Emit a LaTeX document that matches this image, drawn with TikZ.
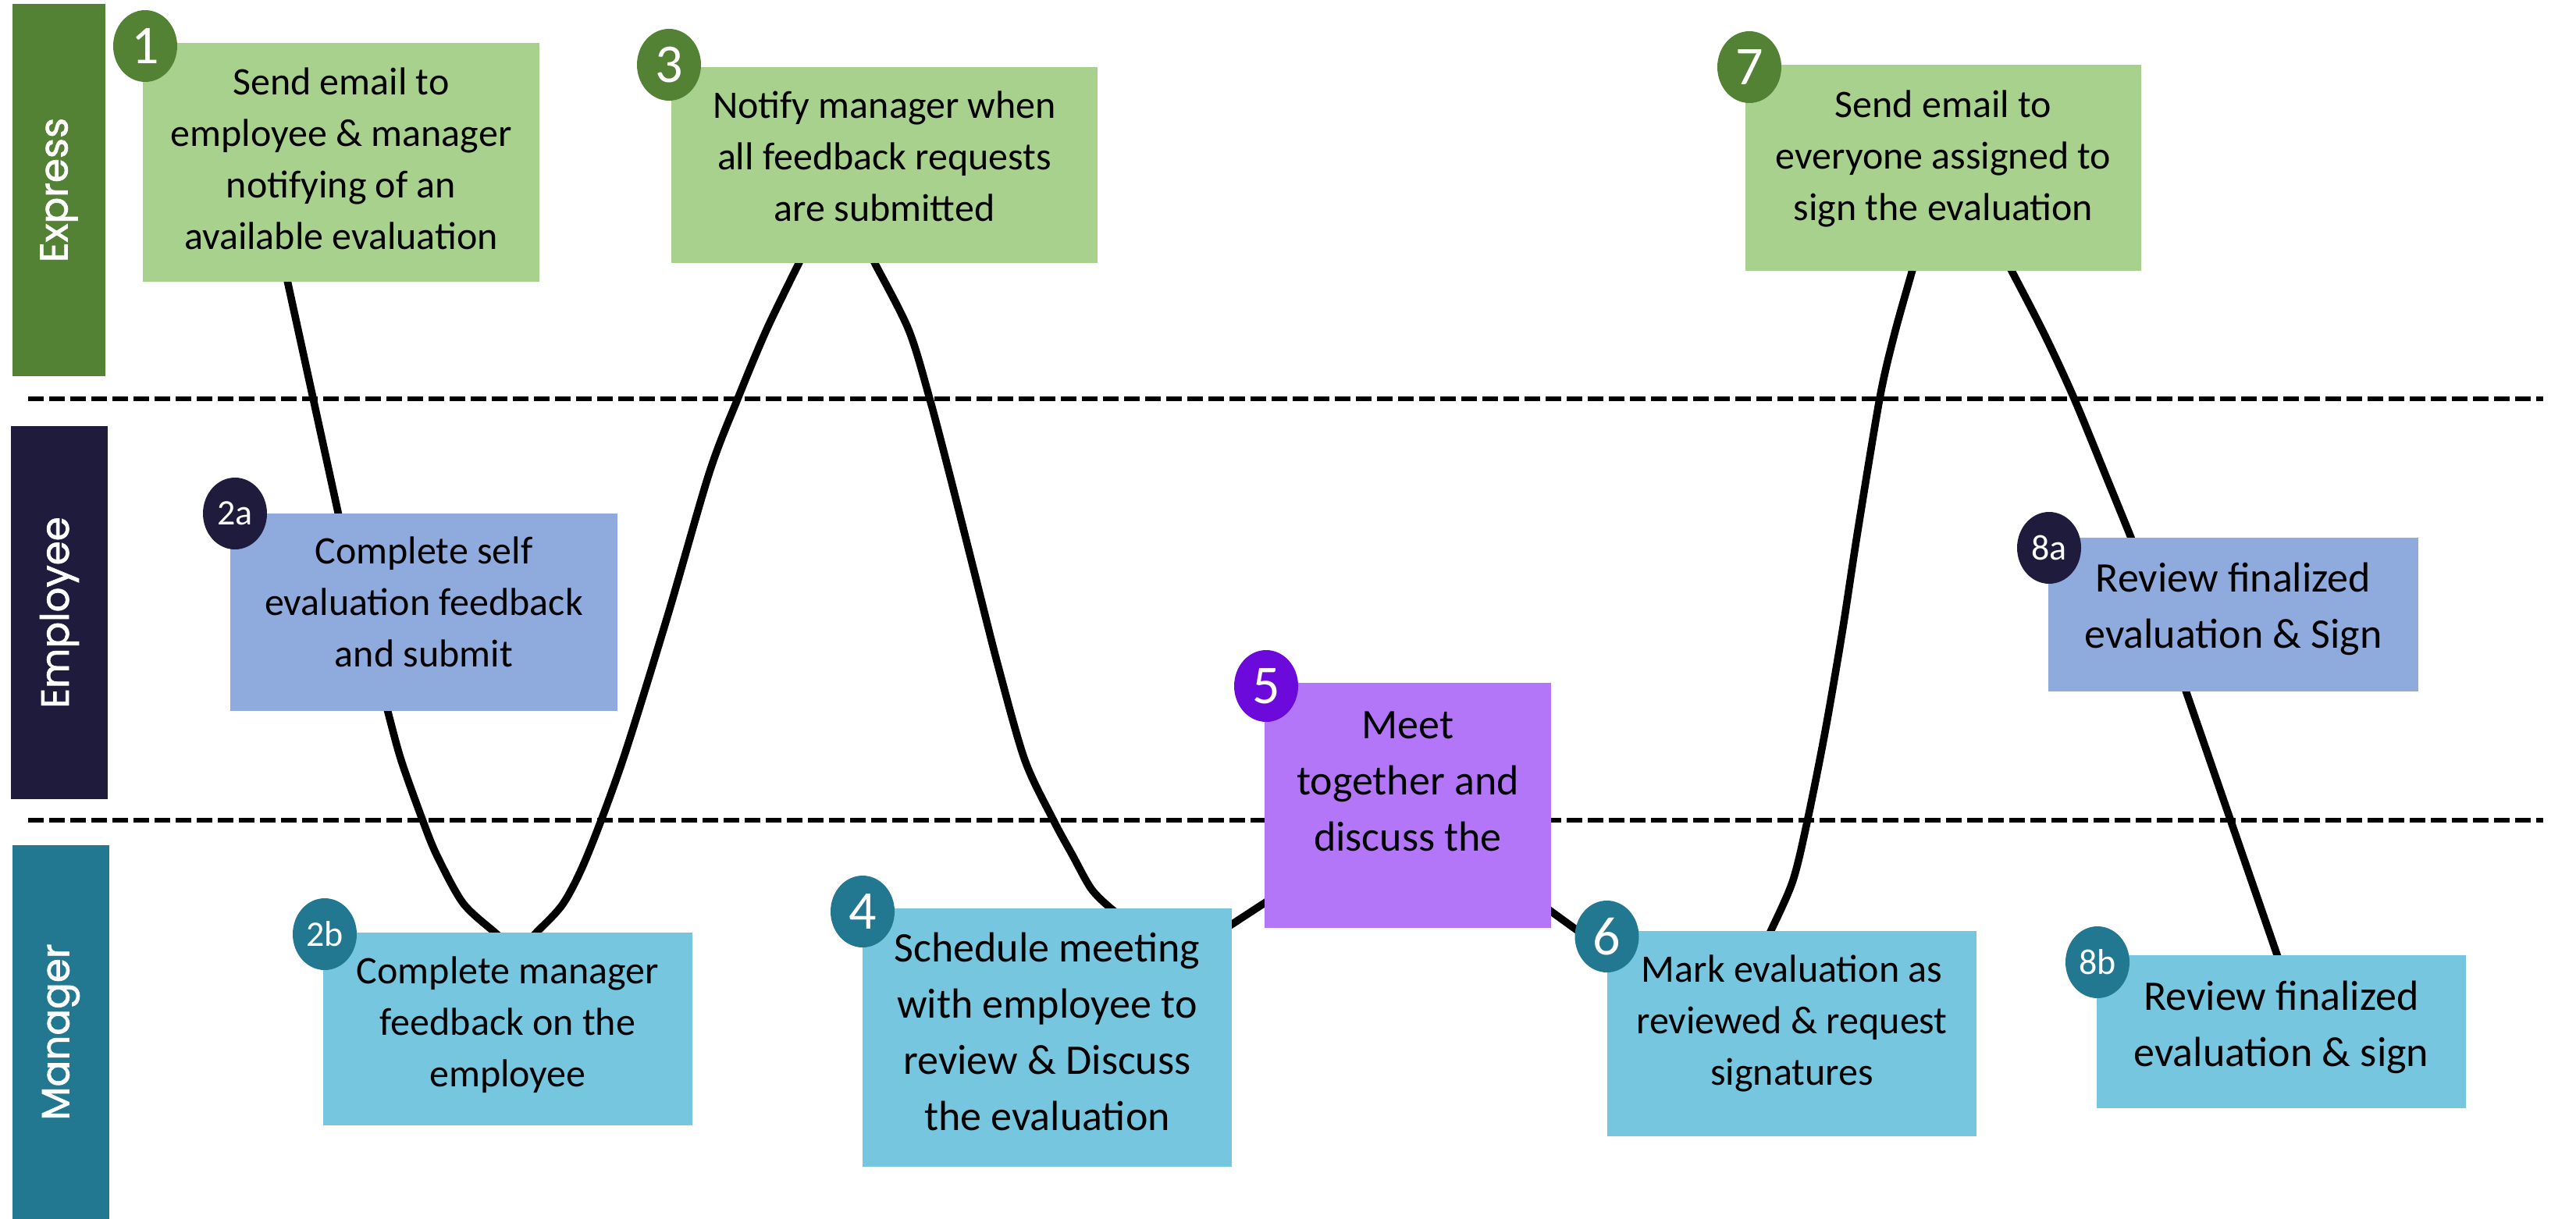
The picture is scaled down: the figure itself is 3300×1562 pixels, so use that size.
\documentclass[tikz,border=0pt]{standalone}
\usepackage{fontspec}
\setmainfont{Carlito}
\newfontfamily\lanefont{Poppins}[FakeBold=1.5]
\usetikzlibrary{shapes.geometric}
\definecolor{grnD}{HTML}{548235}
\definecolor{grnL}{HTML}{A9D18E}
\definecolor{navy}{HTML}{1E1B3C}
\definecolor{bluL}{HTML}{8FAADC}
\definecolor{tealD}{HTML}{237891}
\definecolor{cyanL}{HTML}{76C6E0}
\definecolor{purL}{HTML}{B476F8}
\definecolor{purD}{HTML}{6C0ADC}
\pgfdeclarelayer{bg}
\pgfsetlayers{bg,main}
\newcommand\fsz[2]{\fontsize{#1}{#2}\selectfont}
\newcommand\boxtext[2]{\raisebox{#1}[\height][\depth]{\begin{tabular}{@{}c@{}}#2\end{tabular}}}
\begin{document}
\begin{tikzpicture}[x=0.25pt, y=-0.25pt,
  stepbox/.style={rectangle, inner sep=0pt, text=black, font=\fsz{12.5pt}{16.5pt}},
  bigtext/.style={font=\fsz{13.5pt}{18pt}},
  pill/.style={ellipse, minimum width=20.5pt, minimum height=23pt, inner sep=0pt, text=white, font=\fsz{17.5pt}{20pt}},
  smallpill/.style={pill, font=\fsz{11.5pt}{14pt}},
  lane/.style={rectangle, rotate=90, inner sep=0pt, text=white, font=\lanefont\fsz{12.5pt}{15pt}},
  flow/.style={line width=2.4pt, black},
  lanesep/.style={line width=1.5pt, black, dash pattern=on 5pt off 1.75pt}]
\useasboundingbox (0,0) rectangle (3300,1562);

% lane bars
\node[lane, fill=grnD, minimum width=119.25pt, minimum height=29.75pt] (lx) at (75.5,243.5) {Express};
\node[lane, fill=navy, minimum width=119.5pt, minimum height=31pt] (le) at (76,785) {Employee};
\node[lane, fill=tealD, minimum width=119.75pt, minimum height=31pt] (lm) at (78,1322.5) {Manager};

% step boxes
\node[stepbox, fill=grnL, minimum width=127pt, minimum height=76.5pt] (b1) at (437,208)
  {\boxtext{0.2pt}{Send email to\\employee \& manager\\notifying of an\\available evaluation}};
\node[stepbox, fill=grnL, minimum width=136.5pt, minimum height=62.75pt] (b3) at (1133,211.5)
  {\boxtext{1.8pt}{Notify manager when\\all feedback requests\\are submitted}};
\node[stepbox, fill=grnL, minimum width=126.75pt, minimum height=66pt] (b7) at (2489.5,215)
  {\boxtext{2.9pt}{Send email to\\everyone assigned to\\sign the evaluation}};
\node[stepbox, fill=bluL, minimum width=124pt, minimum height=63.25pt] (b2a) at (543,784.5)
  {\boxtext{2.2pt}{Complete self\\evaluation feedback\\and submit}};
\node[stepbox, bigtext, fill=bluL, minimum width=118.5pt, minimum height=49.25pt] (b8a) at (2861,787.5)
  {\boxtext{1.75pt}{Review finalized\\evaluation \& Sign}};
\node[stepbox, fill=cyanL, minimum width=118.25pt, minimum height=61.75pt] (b2b) at (650.5,1318.5)
  {\boxtext{1.3pt}{Complete manager\\feedback on the\\employee}};
\node[stepbox, bigtext, fill=cyanL, minimum width=118.25pt, minimum height=82.75pt] (b4) at (1341.5,1329.5)
  {\boxtext{0.75pt}{Schedule meeting\\with employee to\\review \& Discuss\\the evaluation}};
\node[stepbox, bigtext, fill=purL, minimum width=91.75pt, minimum height=78.5pt] (b5) at (1803.5,1032)
  {\boxtext{7pt}{Meet\\together and\\discuss the}};
\node[stepbox, fill=cyanL, minimum width=118.25pt, minimum height=65.75pt] (b6) at (2295.5,1324.5)
  {\boxtext{3.2pt}{Mark evaluation as\\reviewed \& request\\signatures}};
\node[stepbox, bigtext, fill=cyanL, minimum width=118.25pt, minimum height=49pt] (b8b) at (2922.5,1322)
  {\boxtext{1.4pt}{Review finalized\\evaluation \& sign}};

% number badges
\node[pill, fill=grnD] (n1) at (186,59) {1};
\node[pill, fill=grnD] (n3) at (857,83) {3};
\node[pill, fill=grnD] (n7) at (2241,86) {7};
\node[smallpill, fill=navy] (n2a) at (301,658) {2a};
\node[smallpill, fill=navy] (n8a) at (2625,702) {8a};
\node[smallpill, fill=tealD] (n2b) at (416,1197) {2b};
\node[pill, fill=tealD] (n4) at (1105,1168) {4};
\node[pill, fill=purD] (n5) at (1622,879) {5};
\node[pill, fill=tealD] (n6) at (2058.5,1200) {6};
\node[smallpill, fill=tealD] (n8b) at (2687,1233) {8b};

% connector end points (just inside the boxes)
\coordinate (c1s) at (366,350);   \coordinate (c1e) at (436,670);
\coordinate (c2s) at (494,901);   \coordinate (c2e) at (645,1204);
\coordinate (c3s) at (677,1205);  \coordinate (c3e) at (1031,323);
\coordinate (c4s) at (1113,322);  \coordinate (c4e) at (1440,1176);
\coordinate (c5s) at (1568,1191); \coordinate (c5e) at (1630,1150.5);
\coordinate (c6s) at (1979,1162); \coordinate (c6e) at (2030,1199);
\coordinate (c7s) at (2262,1206); \coordinate (c7e) at (2453,334);
\coordinate (c8s) at (2570,334);  \coordinate (c8e) at (2735,702);
\coordinate (c9s) at (2797,876);  \coordinate (c9e) at (2921,1235);

\begin{pgfonlayer}{bg}
\draw[lanesep] (36,510.5) -- (3258,510.5);
\draw[lanesep] (36,1050.5) -- (3258,1050.5);
% b1 -> b2a
\draw[flow] (c1s) -- (c1e);
% b2a -> b2b
\draw[flow] plot[smooth, tension=0.5] coordinates {(c2s) (496.5,910.5) (513.7,973.5) (541,1050) (559.6,1096) (593,1157) (633,1194) (c2e)};
% b2b -> b3
\draw[flow] plot[smooth, tension=0.5] coordinates {(c3s) (688,1194) (722,1157) (752.5,1096) (798,973.5) (855,790) (908.6,606) (945,511) (982,422.5) (1024,336) (c3e)};
% b3 -> b4
\draw[flow] plot[smooth, tension=0.5] coordinates {(c4s) (1120,336) (1164,422.5) (1191,511) (1216,606) (1247,728.6) (1278,851) (1312.7,973.5) (1349,1050) (1374,1096) (1398,1139) (1423,1164) (c4e)};
% b4 -> b5
\draw[flow] (c5s) -- (c5e);
% b5 -> b6
\draw[flow] (c6s) -- (c6e);
% b6 -> b7
\draw[flow] plot[smooth, tension=0.5] coordinates {(c7s) (2268,1194) (2296.6,1129) (2315.7,1050) (2338,937.8) (2360,810) (2379.5,682.7) (2408,510.5) (2427,427.6) (2449.6,347) (c7e)};
% b7 -> b8a
\draw[flow] plot[smooth, tension=0.5] coordinates {(c8s) (2577,347) (2618.6,427.6) (2657,510.5) (2701.5,619) (2730,689) (c8e)};
% b8a -> b8b
\draw[flow] (c9s) -- (c9e);
\end{pgfonlayer}
\end{tikzpicture}
\end{document}
